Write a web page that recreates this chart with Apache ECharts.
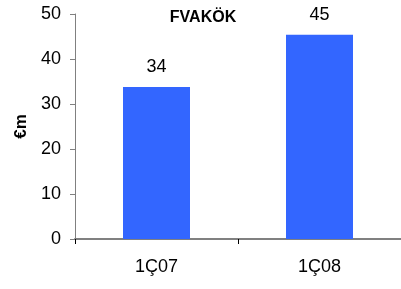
<!DOCTYPE html>
<html>
<head>
<meta charset="utf-8">
<script src="https://cdn.jsdelivr.net/npm/echarts@6/dist/echarts.min.js"></script>
<style>
  html, body { margin: 0; padding: 0; background: #fff; }
  #chart { width: 401px; height: 289px; }
</style>
</head>
<body>
<div id="chart"></div>
<script>
  // chart data
  const categories = ['1Ç07', '1Ç08']
  const values = [33.8, 45.4]
  const yTicks = [0, 10, 20, 30, 40, 50]

  const chart = echarts.init(document.getElementById('chart'))
  const font = 'Liberation Sans, Arial, sans-serif'

  const option = {
    animation: false,
    title: {
      text: 'FVAKÖK',
      left: 198,
      top: 5,
      textAlign: 'center',
      textStyle: { fontFamily: font, fontSize: 16, fontWeight: 'bold', color: '#000' }
    },
    grid: { left: 75, right: -9, top: 14, bottom: 50 },
    xAxis: {
      type: 'category',
      data: categories,
      axisLine: { lineStyle: { color: '#808080', width: 2 } },
      axisTick: { show: true, length: 5, lineStyle: { color: '#000' }, interval: 0 },
      axisLabel: { fontFamily: font, fontSize: 18, color: '#000', margin: 19 }
    },
    yAxis: {
      type: 'value',
      min: yTicks[0],
      max: yTicks[yTicks.length - 1],
      interval: 10,
      name: '€m',
      nameLocation: 'middle',
      nameGap: 44,
      nameRotate: 90,
      nameTextStyle: { fontFamily: font, fontSize: 17, fontWeight: 'bold', color: '#000' },
      axisLine: { show: true, lineStyle: { color: '#808080', width: 1 } },
      axisTick: { show: true, length: 5, lineStyle: { color: '#808080' } },
      axisLabel: { fontFamily: font, fontSize: 18, color: '#000', margin: 14 },
      splitLine: { show: false }
    },
    series: [{
      type: 'bar',
      data: values,
      barWidth: 67,
      itemStyle: { color: '#3366FF' },
      label: {
        show: true,
        position: 'top',
        distance: 11,
        fontFamily: font,
        fontSize: 18,
        color: '#000',
        formatter: p => Math.round(p.value)
      }
    }]
  }

  chart.setOption(option)
</script>
</body>
</html>
